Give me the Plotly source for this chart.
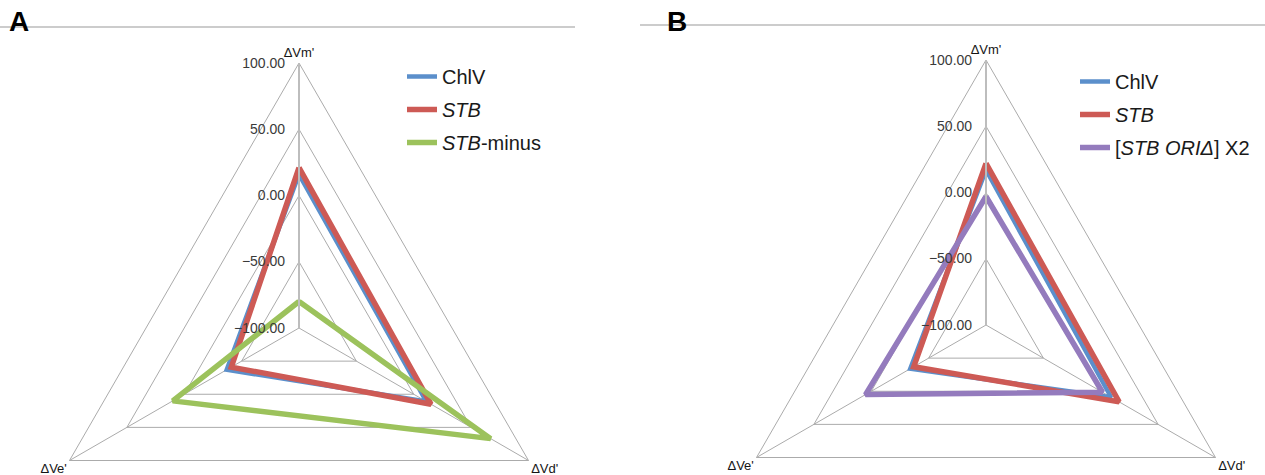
import plotly.graph_objects as go

# Radar axes (clockwise from the top)
axes = ["ΔVm'", "ΔVd'", "ΔVe'"]
radial_ticks = [-100, -50, 0, 50, 100]

# Panel A series
a_chlv = [16, 11, -37]
a_stb = [21, 15, -41]
a_stb_minus = [-80, 67, 10]

# Panel B series
b_chlv = [17, 9, -34]
b_stb = [22, 16, -37]
b_ori_x2 = [-3, 1.5, 5]

W, H = 1265, 600
VIEW_H = 475

BLUE = "#5B8FCB"
RED = "#CD5A55"
GREEN = "#9CC25C"
PURPLE = "#947BBD"
GRID = "#ABABAB"
FONT = "Liberation Sans, Arial, sans-serif"


def px_x(x):
    return x / W


def px_y(y):
    return 1 - y / H


def closed(vals):
    return list(vals) + [vals[0]]


theta = closed(axes)

fig = go.Figure()


def add_series(vals, name, color, width, polar, legend, group):
    fig.add_trace(go.Scatterpolar(
        r=closed(vals), theta=theta, mode="lines", name=name,
        line=dict(color=color, width=width, shape="linear"),
        subplot=polar, legend=legend, legendgroup=group,
        hoverinfo="skip",
    ))


add_series(a_chlv, "ChlV", BLUE, 4.5, "polar", "legend", "a1")
add_series(a_stb, "<i>STB</i>", RED, 5.5, "polar", "legend", "a2")
add_series(a_stb_minus, "<i>STB</i>-minus", GREEN, 5.5, "polar", "legend", "a3")

add_series(b_chlv, "ChlV", BLUE, 4.5, "polar2", "legend2", "b1")
add_series(b_stb, "<i>STB</i>", RED, 5.5, "polar2", "legend2", "b2")
add_series(b_ori_x2, "[<i>STB ORIΔ</i>] X2", PURPLE, 5.5, "polar2", "legend2", "b3")


def polar_layout(cx, cy, rad):
    return dict(
        domain=dict(x=[px_x(cx - rad), px_x(cx + rad)],
                    y=[px_y(cy + rad), px_y(cy - rad)]),
        gridshape="linear",
        bgcolor="white",
        radialaxis=dict(
            range=[-100, 100], tickvals=radial_ticks, tickformat=".2f",
            angle=90, side="counterclockwise", tickangle=90,
            showline=True, linecolor="#BDBDBD", linewidth=2,
            gridcolor=GRID, gridwidth=1,
            ticks="outside", ticklen=8, tickcolor="rgba(0,0,0,0)",
            tickfont=dict(family=FONT, size=14, color="#3A3A3A"),
        ),
        angularaxis=dict(
            type="category", categoryarray=axes,
            rotation=90, direction="clockwise",
            showline=True, linecolor=GRID, linewidth=1,
            gridcolor=GRID, gridwidth=1, ticks="",
            tickfont=dict(family=FONT, size=13, color="#151515"),
        ),
    )


legend_style = dict(
    font=dict(family=FONT, size=20, color="#1A1A1A"),
    bgcolor="rgba(0,0,0,0)", borderwidth=0,
    traceorder="grouped", tracegroupgap=4,
    xanchor="left", yanchor="top",
)

fig.update_layout(
    width=W, height=H,
    margin=dict(l=0, r=0, t=0, b=0),
    paper_bgcolor="white",
    font=dict(family=FONT),
    polar=polar_layout(299, 328, 265),
    polar2=polar_layout(986, 325, 265),
    legend=dict(x=px_x(402), y=px_y(57), **legend_style),
    legend2=dict(x=px_x(1075), y=px_y(62), **legend_style),
    showlegend=True,
    shapes=[
        dict(type="line", xref="paper", yref="paper",
             x0=px_x(0), x1=px_x(575), y0=px_y(27), y1=px_y(27),
             line=dict(color="#BBBBBB", width=1.5)),
        dict(type="line", xref="paper", yref="paper",
             x0=px_x(640), x1=px_x(1265), y0=px_y(25), y1=px_y(25),
             line=dict(color="#BBBBBB", width=1.5)),
    ],
    annotations=[
        dict(text="<b>A</b>", x=px_x(19), y=px_y(22), xref="paper", yref="paper",
             xanchor="center", yanchor="middle",
             showarrow=False, font=dict(family=FONT, size=28, color="black")),
        dict(text="<b>B</b>", x=px_x(677), y=px_y(21), xref="paper", yref="paper",
             xanchor="center", yanchor="middle",
             showarrow=False, font=dict(family=FONT, size=28, color="black")),
    ],
)

# The radar triangles are inscribed in a circle whose lower arc falls below the
# visible area, so the page is cropped to the chart's display height.
crop = ("var gd=document.getElementById('{plot_id}');"
        "gd.parentElement.style.height='%dpx';"
        "gd.parentElement.style.overflow='hidden';" % VIEW_H)

fig.write_html("out.html", post_script=crop)
